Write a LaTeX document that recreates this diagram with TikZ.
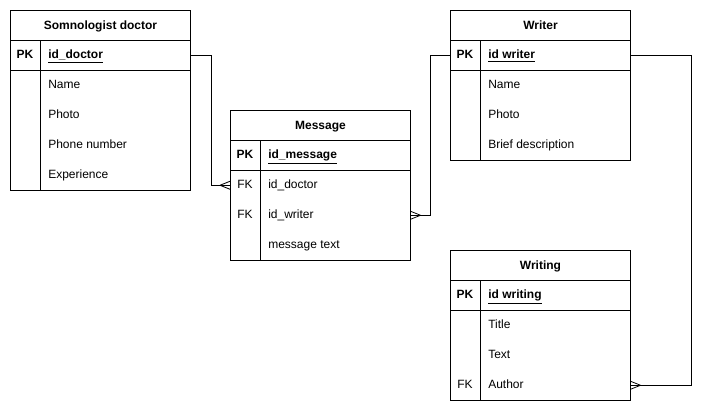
\documentclass[tikz,border=0pt]{standalone}
\usepackage{fontspec}
\setmainfont{Liberation Sans}
\newcommand{\ulkey}[1]{\raisebox{0pt}[\height][0pt]{\underline{#1}}}
\begin{document}
\begin{tikzpicture}[x=0.75pt,y=-0.75pt,
  every node/.style={font=\fontsize{9}{11}\selectfont},
  cell/.style={draw, line width=0.75pt, inner sep=0pt, minimum width=135pt, minimum height=22.5pt, anchor=north west},
  body/.style={draw, line width=0.75pt, inner sep=0pt, minimum width=135pt, anchor=north west},
  slot/.style={inner sep=0pt, minimum width=135pt, minimum height=22.5pt, anchor=north west},
  title/.style={font=\fontsize{9}{11}\selectfont\bfseries, text height=6.6pt, text depth=0.8pt, inner sep=0pt},
  keyt/.style={anchor=center, inner sep=0pt, text height=6.6pt, text depth=0.8pt},
  fieldt/.style={anchor=west, inner sep=0pt, text height=6.6pt, text depth=0.8pt},
  pkt/.style={font=\fontsize{9}{11}\selectfont\bfseries, anchor=center, inner sep=0pt, text height=6.6pt, text depth=0.8pt},
  sep/.style={line width=0.75pt},
  conn/.style={line width=0.75pt},
  crow/.style={line width=0.6pt}
]
\useasboundingbox (0,0) rectangle (709,411);

% ---------- Somnologist doctor ----------
\node[cell] (docH) at (10,10) {};
\node[title] at (docH.center) {Somnologist doctor};
\node[cell] (docPK) at (10,40) {};
\node[body, minimum height=90pt] (docB) at (10,70) {};
\draw[sep] (40,40) -- (40,190);
\node[pkt] at (25,55) {PK};
\node[pkt, fieldt] at (48,55) {\ulkey{id\_doctor}};
\node[fieldt] at (48,85) {Name};
\node[fieldt] at (48,115) {Photo};
\node[fieldt] at (48,145) {Phone number};
\node[fieldt] at (48,175) {Experience};

% ---------- Message ----------
\node[cell] (msgH) at (230,110) {};
\node[title] at (msgH.center) {Message};
\node[cell] (msgPK) at (230,140) {};
\node[body, minimum height=67.5pt] (msgB) at (230,170) {};
\node[slot] (msgFK1) at (230,170) {};
\node[slot] (msgFK2) at (230,200) {};
\draw[sep] (260,140) -- (260,260);
\node[pkt] at (245,155) {PK};
\node[pkt, fieldt] at (268,155) {\ulkey{id\_message}};
\node[keyt] at (245,185) {FK};
\node[fieldt] at (268,185) {id\_doctor};
\node[keyt] at (245,215) {FK};
\node[fieldt] at (268,215) {id\_writer};
\node[fieldt] at (268,245) {message text};

% ---------- Writer ----------
\node[cell] (wrH) at (450,10) {};
\node[title] at (wrH.center) {Writer};
\node[cell] (wrPK) at (450,40) {};
\node[body, minimum height=67.5pt] (wrB) at (450,70) {};
\draw[sep] (480,40) -- (480,160);
\node[pkt] at (465,55) {PK};
\node[pkt, fieldt] at (488,55) {\ulkey{id writer}};
\node[fieldt] at (488,85) {Name};
\node[fieldt] at (488,115) {Photo};
\node[fieldt] at (488,145) {Brief description};

% ---------- Writing ----------
\node[cell] (wgH) at (450,250) {};
\node[title] at (wgH.center) {Writing};
\node[cell] (wgPK) at (450,280) {};
\node[body, minimum height=67.5pt] (wgB) at (450,310) {};
\node[slot] (wgFK) at (450,370) {};
\draw[sep] (480,280) -- (480,400);
\node[pkt] at (465,295) {PK};
\node[pkt, fieldt] at (488,295) {\ulkey{id writing}};
\node[fieldt] at (488,325) {Title};
\node[fieldt] at (488,355) {Text};
\node[keyt] at (465,385) {FK};
\node[fieldt] at (488,385) {Author};

% ---------- Connectors ----------
\draw[conn] (docPK.east) -- ++(20,0) |- (msgFK1.west);
\draw[crow] ([xshift=-7.5pt]msgFK1.west) -- ([yshift=3pt]msgFK1.west)
            ([xshift=-7.5pt]msgFK1.west) -- ([yshift=-3pt]msgFK1.west);

\draw[conn] (wrPK.west) -- ++(-20,0) |- (msgFK2.east);
\draw[crow] ([xshift=7.5pt]msgFK2.east) -- ([yshift=3pt]msgFK2.east)
            ([xshift=7.5pt]msgFK2.east) -- ([yshift=-3pt]msgFK2.east);

\draw[conn] (wrPK.east) -- ++(60,0) |- (wgFK.east);
\draw[crow] ([xshift=7.5pt]wgFK.east) -- ([yshift=3pt]wgFK.east)
            ([xshift=7.5pt]wgFK.east) -- ([yshift=-3pt]wgFK.east);
\end{tikzpicture}
\end{document}
